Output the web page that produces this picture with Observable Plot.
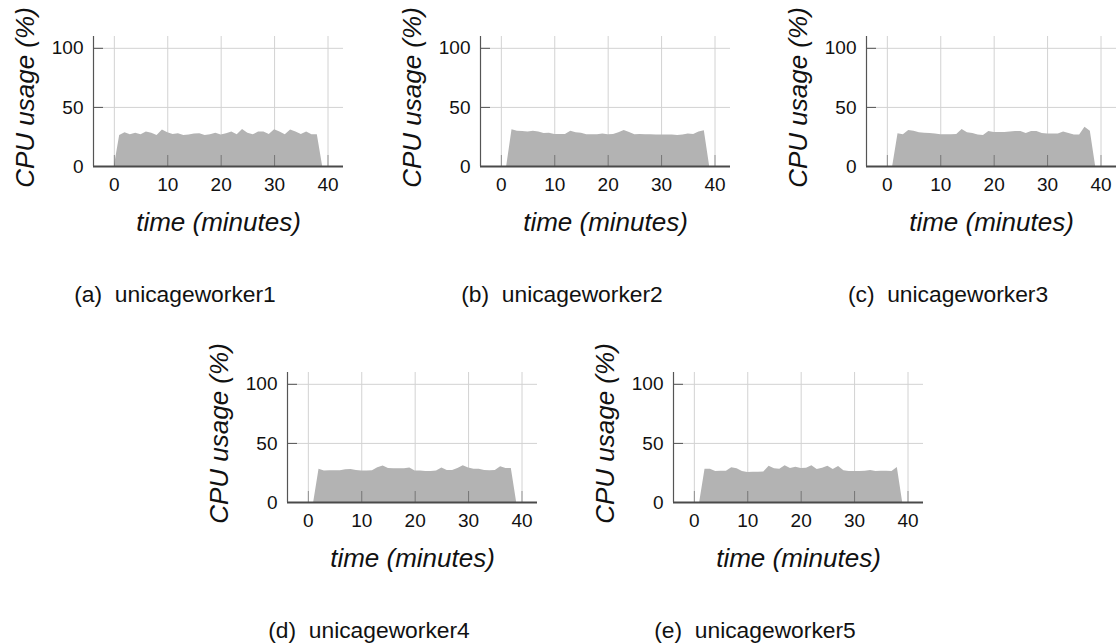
<!DOCTYPE html>
<html><head><meta charset="utf-8">
<script src="https://cdn.jsdelivr.net/npm/d3@7"></script>
<script src="https://cdn.jsdelivr.net/npm/@observablehq/plot@0.6"></script>
<style>
html,body{margin:0;padding:0;background:#fff;overflow:hidden}
#root{position:relative;width:1119px;height:643px;font-family:"Liberation Sans",Arial,Helvetica,sans-serif;color:#111}
.panel{position:absolute}
.cap{position:absolute;font-size:22.8px;white-space:pre;transform:translateX(-50%);line-height:1}
</style></head>
<body><div id="root"></div>
<script>
// ---- data ----
const minutes = [0,1,2,3,4,5,6,7,8,9,10,11,12,13,14,15,16,17,18,19,20,21,22,23,24,25,26,27,28,29,30,31,32,33,34,35,36,37,38,39];
const worker1 = [0,26.3,28.5,26.8,28.2,26.8,29.1,28.2,26.3,30.8,28.5,27.1,27.7,26.3,26.6,27.4,27.7,26.3,26.8,28.2,26.6,27.7,29.1,26.8,31.4,28.2,26.8,29.1,29.1,27.1,31.1,29.1,26.8,30.8,29.1,27.1,29.1,26.8,26.8,0];
const worker2 = [0,0,31.1,29.9,29.7,29.1,29.9,29.1,28.0,28.2,27.1,27.1,27.1,29.9,28.5,28.2,26.8,26.8,26.8,27.4,26.8,27.1,28.5,30.5,28.8,26.8,27.1,26.8,26.8,26.6,26.6,26.6,26.6,26.3,26.6,27.4,27.1,29.1,30.2,0];
const worker3 = [0,0,27.7,26.8,30.5,29.9,28.5,28.2,28.0,27.4,26.8,26.8,26.8,27.1,31.4,28.5,28.0,26.6,26.3,29.7,28.8,28.8,28.8,29.1,29.7,29.7,28.0,29.7,29.7,28.0,27.4,27.4,27.4,29.1,28.0,26.6,26.6,33.3,29.9,0];
const worker4 = [0,0,28.2,26.6,26.8,26.8,26.8,27.7,28.0,27.1,26.6,26.6,26.8,29.4,30.8,28.8,28.5,28.5,28.5,29.1,26.6,26.6,26.3,26.3,26.6,29.1,27.1,27.1,28.8,31.1,29.1,28.2,28.2,27.1,26.8,27.1,30.2,28.8,28.8,0];
const worker5 = [0,0,28.2,28.2,26.2,26.5,26.5,29.3,28.5,26.2,25.4,25.6,25.6,25.9,30.7,28.5,28.2,31.0,28.7,29.9,28.7,29.0,31.0,27.9,29.0,30.7,27.9,30.4,26.8,26.2,26.2,26.2,26.5,27.0,26.2,26.5,26.5,26.2,29.6,0];
const series = [worker1, worker2, worker3, worker4, worker5];
const captions = ["(a)  unicageworker1","(b)  unicageworker2","(c)  unicageworker3","(d)  unicageworker4","(e)  unicageworker5"];
const xTicks = [0,10,20,30,40];
const yTicks = [0,50,100];
const xLabel = "time (minutes)";
const yLabel = "CPU usage (%)";
const xDomain = [-3.9, 42.9];
const yDomain = [0, 110];

// ---- layout ----
const layout = [
  {left: 0, top: 0}, {left: 387, top: 0}, {left: 773, top: 0},
  {left: 194, top: 336}, {left: 580, top: 336}
];
const FONT = '"Liberation Sans",Arial,Helvetica,sans-serif';
const root = document.getElementById("root");

function panel(values) {
  const rows = minutes.map((t, j) => ({t, v: values[j]}));
  const plotH = 236 - 36 - 70;
  return Plot.plot({
    width: 346, height: 236,
    marginLeft: 93, marginRight: 3, marginTop: 36, marginBottom: 70,
    style: {fontFamily: FONT, color: "#111", background: "transparent", overflow: "visible"},
    x: {domain: xDomain},
    y: {domain: yDomain},
    marks: [
      Plot.gridX(xTicks, {stroke: "#d2d2d2", strokeOpacity: 1}),
      Plot.gridY(yTicks, {stroke: "#d2d2d2", strokeOpacity: 1}),
      Plot.areaY(rows, {x: "t", y: "v", fill: "#b3b3b3"}),
      Plot.tickX(xTicks, {stroke: "#000", strokeOpacity: 0.35, insetTop: plotH - 11}),
      Plot.tickY(yTicks.slice(1), {stroke: "#555", insetRight: 250 - 10}),
      Plot.ruleY([yDomain[0]], {stroke: "#4a4a4a", strokeWidth: 1.8}),
      Plot.ruleX([xDomain[0]], {stroke: "#555", strokeWidth: 1.2}),
      Plot.axisX(xTicks, {tickSize: 0, tickPadding: 11, fontSize: 19, label: null}),
      Plot.axisY(yTicks, {tickSize: 0, tickPadding: 10, fontSize: 19, label: null}),
      Plot.text([xLabel], {frameAnchor: "bottom", dy: 56, fontSize: 26, fontStyle: "italic", textAnchor: "middle", lineAnchor: "middle"}),
      Plot.text([yLabel], {frameAnchor: "left", dx: -68, dy: -4, rotate: -90, fontSize: 26, fontStyle: "italic", textAnchor: "middle", lineAnchor: "middle"})
    ]
  });
}

series.forEach((vals, i) => {
  const wrap = document.createElement("div");
  wrap.className = "panel";
  wrap.style.left = layout[i].left + "px";
  wrap.style.top = layout[i].top + "px";
  wrap.appendChild(panel(vals));
  root.appendChild(wrap);
  const cap = document.createElement("div");
  cap.className = "cap";
  cap.textContent = captions[i];
  cap.style.left = (layout[i].left + 175) + "px";
  cap.style.top = (layout[i].top + 282.7) + "px";
  root.appendChild(cap);
});
</script>
</body></html>
